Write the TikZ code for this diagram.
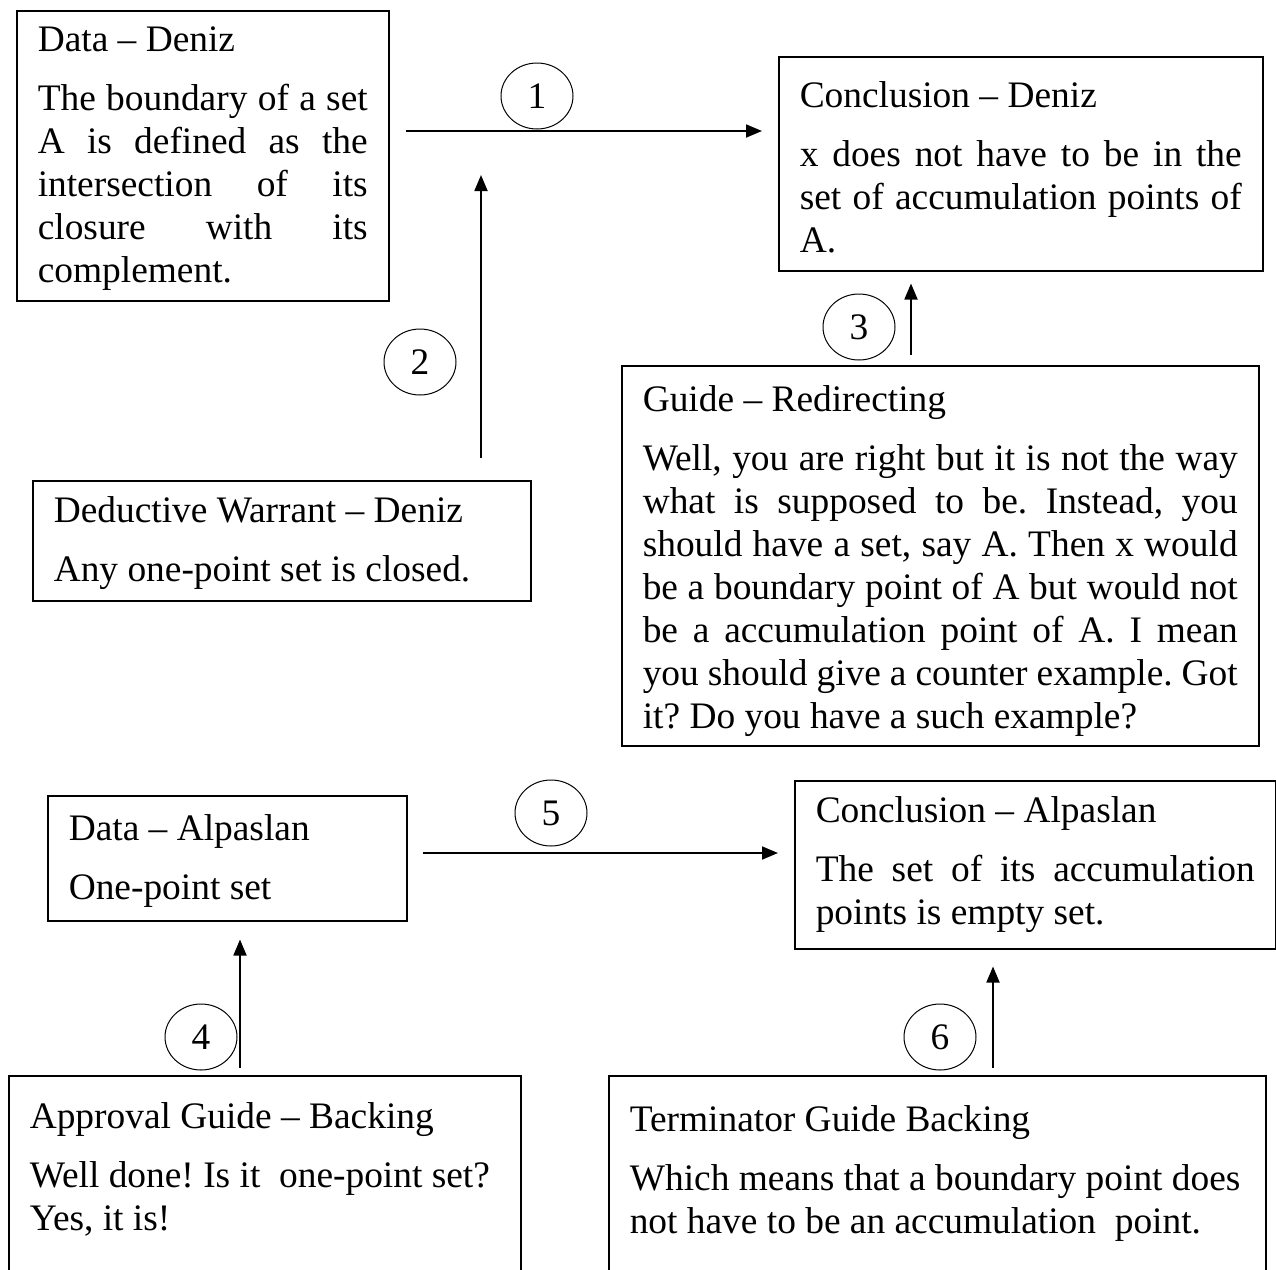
\documentclass[tikz,border=0pt]{standalone}
\usepackage{fontspec}
\setmainfont{Liberation Serif}
\usetikzlibrary{arrows.meta,shapes.geometric}
\frenchspacing

\newcommand{\argfont}{\fontsize{18.7}{21.5}\selectfont}
% #1 first baseline, #2 box height, #3 text width, #4 title, #5 body
\newcommand{\argtext}[5]{\parbox[t][#2][t]{#3}{\rule{0pt}{#1}#4\par\vspace{8pt}#5}}

\tikzset{every picture/.style={line width=0.75pt}}
\tikzset{
  argbox/.style={draw, anchor=north west, inner xsep=10.5pt, inner ysep=0pt, font=\argfont},
  numball/.style={draw, ellipse, line width=0.5pt, minimum width=36pt, minimum height=33pt, inner sep=0pt, font=\argfont},
  arr/.style={-{Triangle[length=8pt,width=6.5pt]}, line width=0.9pt},
}

\begin{document}
\begin{tikzpicture}[x=0.5pt,y=0.5pt,yscale=-1,xscale=1]
\useasboundingbox (0,0) rectangle (1276,1270);
\clip (0,0) rectangle (1276,1270);

%Boxes
\node[argbox] (dataD) at (16,10) {\argtext{20.5pt}{145pt}{165pt}{Data – Deniz}{The boundary of a set\linebreak A is defined as the\linebreak intersection of its\linebreak closure with its\linebreak complement.}};
\node[argbox] (concD) at (778,56) {\argtext{25.5pt}{107pt}{221pt}{Conclusion – Deniz}{x does not have to be in the\linebreak set of accumulation points of\linebreak A.}};
\node[argbox] (warr) at (32,480) {\argtext{21pt}{60pt}{228pt}{Deductive Warrant – Deniz}{Any one-point set is closed.}};
\node[argbox] (guide) at (621,365) {\argtext{23pt}{190pt}{297.5pt}{Guide – Redirecting}{Well, you are right but it is not the way\linebreak what is supposed to be. Instead, you\linebreak should have a set, say A. Then x would\linebreak be a boundary point of A but would not\linebreak be a accumulation point of A. I mean\linebreak you should give a counter example. Got\linebreak it? Do you have a such example?}};
\node[argbox] (dataA) at (47,795) {\argtext{22.5pt}{62.5pt}{158.5pt}{Data – Alpaslan}{One-point set}};
\node[argbox] (concA) at (794,780) {\argtext{21pt}{84pt}{219.5pt}{Conclusion – Alpaslan}{The set of its accumulation\linebreak points is empty set.}};
\node[argbox] (appr) at (8,1075) {\argtext{26.5pt}{110pt}{235pt}{Approval Guide – Backing}{Well done! Is it~ one-point set?\newline Yes, it is!}};
\node[argbox] (term) at (608,1075) {\argtext{28pt}{110pt}{307.5pt}{Terminator Guide Backing}{Which means that a boundary point does\newline not have to be an accumulation~ point.}};

%Numbers
\node[numball] (c1) at (537,96) {1};
\node[numball] (c2) at (420,362) {2};
\node[numball] (c3) at (859,327) {3};
\node[numball] (c4) at (201,1037) {4};
\node[numball] (c5) at (551,813) {5};
\node[numball] (c6) at (940,1037) {6};

%Arrows
\coordinate (r1) at (0,131);
\coordinate (w1) at (481,175);
\coordinate (g3) at (911,0);
\coordinate (b4) at (240,0);
\coordinate (r5) at (0,853);
\coordinate (b6) at (993,0);
\draw[arr, shorten <=8pt, shorten >=8pt] (dataD.east |- r1) -- (concD.west |- r1);
\draw[arr, shorten <=11pt] (warr.north -| w1) -- (w1);
\draw[arr, shorten <=5pt, shorten >=6pt] (guide.north -| g3) -- (concD.south -| g3);
\draw[arr, shorten <=3.5pt, shorten >=9pt] (appr.north -| b4) -- (dataA.south -| b4);
\draw[arr, shorten <=7.5pt, shorten >=8pt] (dataA.east |- r5) -- (concA.west |- r5);
\draw[arr, shorten <=3.5pt, shorten >=8.5pt] (term.north -| b6) -- (concA.south -| b6);

\end{tikzpicture}
\end{document}
